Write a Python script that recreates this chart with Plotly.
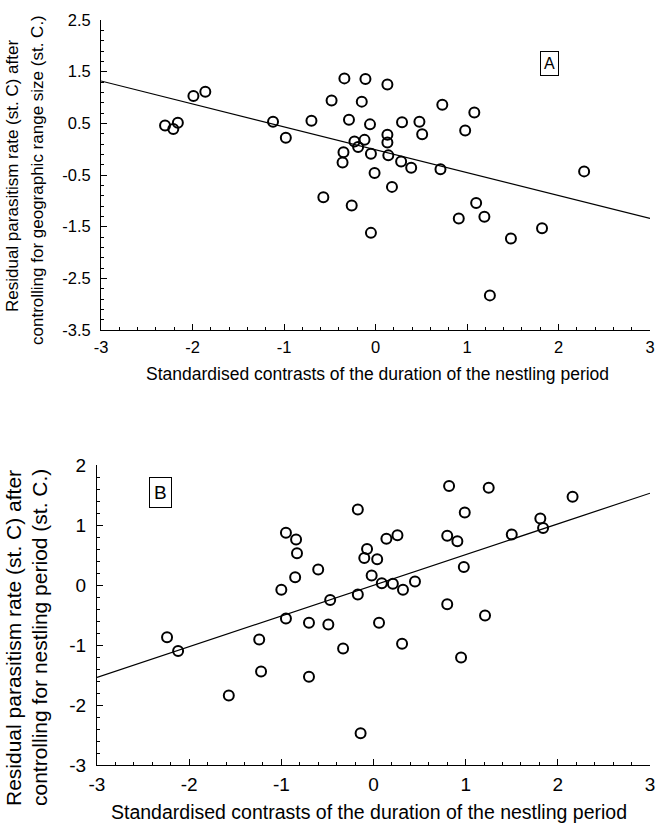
import plotly.graph_objects as go

# ---- Panel A data ----
a_x = [-2.30, -2.21, -2.16, -1.99, -1.86, -1.12, -0.98, -0.70, -0.57, -0.48,
       -0.34, -0.29, -0.26, -0.35, -0.36, -0.23, -0.19, -0.12, -0.15, -0.11,
       -0.06, -0.05, -0.01, -0.05, 0.13, 0.13, 0.13, 0.14, 0.18, 0.29,
       0.28, 0.39, 0.48, 0.51, 0.71, 0.73, 0.91, 0.98, 1.08, 1.10,
       1.19, 1.25, 1.48, 1.82, 2.28]
a_y = [0.46, 0.39, 0.51, 1.03, 1.11, 0.53, 0.22, 0.55, -0.93, 0.94,
       1.37, 0.57, -1.09, -0.06, -0.26, 0.15, 0.04, 0.18, 0.92, 1.36,
       0.48, -0.09, -0.46, -1.62, 1.25, 0.28, 0.13, -0.12, -0.73, 0.52,
       -0.24, -0.36, 0.53, 0.29, -0.39, 0.86, -1.34, 0.36, 0.71, -1.04,
       -1.31, -2.83, -1.73, -1.53, -0.43]
fit_a_x = [-3, 3]
fit_a_y = [1.32, -1.34]

# ---- Panel B data ----
b_x = [-2.24, -2.12, -1.57, -1.24, -1.22, -1.00, -0.95, -0.95, -0.84, -0.83,
       -0.85, -0.70, -0.70, -0.60, -0.49, -0.47, -0.33, -0.17, -0.17, -0.14,
       -0.07, -0.10, 0.04, -0.02, 0.09, 0.06, 0.14, 0.26, 0.21, 0.32,
       0.45, 0.31, 0.80, 0.80, 0.82, 0.91, 0.98, 0.99, 0.95, 1.21,
       1.25, 1.50, 1.81, 1.84, 2.16]
b_y = [-0.87, -1.10, -1.84, -0.91, -1.44, -0.08, 0.87, -0.56, 0.76, 0.53,
       0.13, -0.63, -1.53, 0.26, -0.66, -0.25, -1.06, 1.26, -0.16, -2.47,
       0.60, 0.45, 0.43, 0.16, 0.03, -0.63, 0.77, 0.83, 0.02, -0.08,
       0.06, -0.98, -0.32, 0.82, 1.65, 0.73, 0.30, 1.21, -1.21, -0.51,
       1.62, 0.84, 1.11, 0.95, 1.47]
fit_b_x = [-3, 3]
fit_b_y = [-1.54, 1.53]

x_ticks = [-3, -2, -1, 0, 1, 2, 3]
a_yticks = [2.5, 1.5, 0.5, -0.5, -1.5, -2.5, -3.5]
b_yticks = [2, 1, 0, -1, -2, -3]

x_title = "Standardised contrasts of the duration of the nestling period"
a_ytitle = ["Residual parasitism rate (st. C) after",
            "controlling for geographic range size (st. C.)"]
b_ytitle = ["Residual parasitism rate (st. C) after",
            "controlling for nestling period (st. C.)"]

W, H = 657, 833
FONT = "Arial, Liberation Sans, Helvetica, sans-serif"

fig = go.Figure()

marker = dict(symbol="circle-open", size=10, color="black", line=dict(width=2, color="black"))

fig.add_trace(go.Scatter(x=a_x, y=a_y, mode="markers", marker=marker,
                         xaxis="x", yaxis="y", showlegend=False, cliponaxis=False))
fig.add_trace(go.Scatter(x=fit_a_x, y=fit_a_y, mode="lines",
                         line=dict(color="black", width=1.2),
                         xaxis="x", yaxis="y", showlegend=False))
fig.add_trace(go.Scatter(x=b_x, y=b_y, mode="markers", marker=marker,
                         xaxis="x2", yaxis="y2", showlegend=False, cliponaxis=False))
fig.add_trace(go.Scatter(x=fit_b_x, y=fit_b_y, mode="lines",
                         line=dict(color="black", width=1.2),
                         xaxis="x2", yaxis="y2", showlegend=False))


def px_x(p):
    return p / W


def px_y(p):
    return 1 - p / H


def axis_common(tick_size):
    return dict(
        showline=True, linecolor="black", linewidth=1,
        showgrid=False, zeroline=False, automargin=False,
        ticklabeloverflow="allow",
        ticks="inside", ticklen=6, tickwidth=1, tickcolor="black",
        tickfont=dict(family=FONT, size=tick_size, color="black"),
        minor=dict(ticks="inside", ticklen=3, tickwidth=1, tickcolor="black", dtick=0.2, showgrid=False),
        fixedrange=True,
    )


xa = axis_common(16.5)
xa.update(domain=[px_x(101), px_x(650)], range=[-3, 3], tickvals=x_ticks,
          ticktext=[str(v) for v in x_ticks], anchor="y", ticklabelstandoff=2)
xa["minor"]["tick0"] = -3
ya = axis_common(16.5)
ya.update(domain=[px_y(330), px_y(20)], range=[-3.5, 2.5], tickvals=a_yticks,
          ticktext=[str(v) for v in a_yticks], anchor="x", ticklabelstandoff=6)
ya["minor"]["tick0"] = -3.5

xb = axis_common(19)
xb.update(domain=[px_x(97), px_x(650)], range=[-3, 3], tickvals=x_ticks,
          ticktext=[str(v) for v in x_ticks], anchor="y2", ticklabelstandoff=2)
xb["minor"]["tick0"] = -3
yb = axis_common(19)
yb.update(domain=[px_y(765), px_y(465)], range=[-3, 2], tickvals=b_yticks,
          ticktext=[str(v) for v in b_yticks], anchor="x2", ticklabelstandoff=6)
yb["minor"]["tick0"] = -3

annotations = [
    dict(text=x_title, x=px_x(377), y=px_y(374), xref="paper", yref="paper",
         showarrow=False, font=dict(family=FONT, size=17.5, color="black"),
         xanchor="center", yanchor="middle"),
    dict(text=x_title, x=px_x(369), y=px_y(812), xref="paper", yref="paper",
         showarrow=False, font=dict(family=FONT, size=19.5, color="black"),
         xanchor="center", yanchor="middle"),
    dict(text=a_ytitle[0], x=px_x(13), y=px_y(176), xref="paper", yref="paper",
         showarrow=False, textangle=-90, font=dict(family=FONT, size=17, color="black"),
         xanchor="center", yanchor="middle"),
    dict(text=a_ytitle[1], x=px_x(37), y=px_y(180), xref="paper", yref="paper",
         showarrow=False, textangle=-90, font=dict(family=FONT, size=17, color="black"),
         xanchor="center", yanchor="middle"),
    dict(text=b_ytitle[0], x=px_x(13), y=px_y(638), xref="paper", yref="paper",
         showarrow=False, textangle=-90, font=dict(family=FONT, size=21, color="black"),
         xanchor="center", yanchor="middle"),
    dict(text=b_ytitle[1], x=px_x(39), y=px_y(638), xref="paper", yref="paper",
         showarrow=False, textangle=-90, font=dict(family=FONT, size=21, color="black"),
         xanchor="center", yanchor="middle"),
    dict(text="A", x=1.897, y=1.66, xref="x", yref="y", showarrow=False,
         font=dict(family=FONT, size=16, color="black"), bordercolor="black",
         borderwidth=1, borderpad=3, bgcolor="white"),
    dict(text="B", x=-2.314, y=1.537, xref="x2", yref="y2", showarrow=False,
         font=dict(family=FONT, size=19, color="black"), bordercolor="black",
         borderwidth=1, borderpad=4, bgcolor="white"),
]

fig.update_layout(
    width=W, height=H,
    margin=dict(l=0, r=0, t=0, b=0, pad=0),
    paper_bgcolor="white", plot_bgcolor="white",
    xaxis=xa, yaxis=ya, xaxis2=xb, yaxis2=yb,
    annotations=annotations,
    font=dict(family=FONT, color="black"),
    showlegend=False,
    hovermode=False,
)

fig.write_html(
    "out.html",
    config={"displayModeBar": False, "staticPlot": True},
    post_script="document.body.style.margin='0';document.body.style.padding='0';",
)
